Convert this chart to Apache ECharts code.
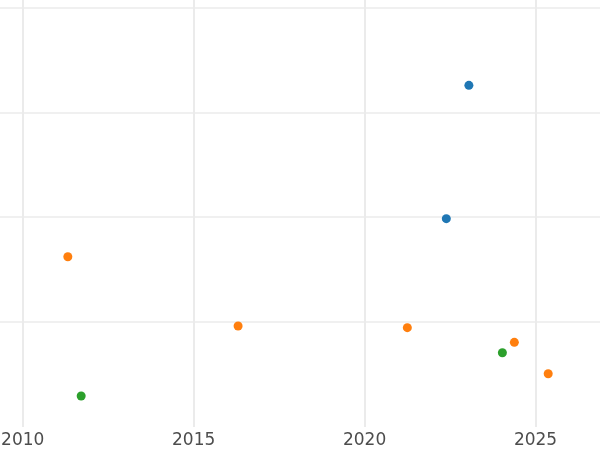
<!DOCTYPE html>
<html>
<head>
<meta charset="utf-8">
<script src="https://cdn.jsdelivr.net/npm/echarts@6/dist/echarts.min.js"></script>
<style>html,body{margin:0;padding:0;background:#fff}#c{width:600px;height:450px}</style>
</head>
<body>
<div id="c"></div>
<script>
// Data (x = year, y = value on the chart's unlabelled scale)
const blueX = [2023.05, 2022.39];
const blueY = [3.257, 1.986];
const orangeX = [2011.32, 2016.30, 2021.25, 2024.38, 2025.37];
const orangeY = [1.623, 0.963, 0.947, 0.807, 0.508];
const greenX = [2011.71, 2024.03];
const greenY = [0.296, 0.708];
const xTicks = [2010, 2015, 2020, 2025];

const pairs = (xs, ys) => xs.map((x, i) => [x, ys[i]]);
const chart = echarts.init(document.getElementById('c'), null, {renderer: 'canvas'});
const mk = (name, xs, ys, color) => ({
  name, type: 'scatter', data: pairs(xs, ys), symbolSize: 9,
  itemStyle: {color, opacity: 1}, emphasis: {disabled: true}
});
chart.setOption({
  animation: false,
  backgroundColor: '#ffffff',
  grid: {left: -148.25, right: -106.5, top: -97.5, bottom: 23, containLabel: false, outerBoundsMode: 'none'},
  xAxis: {
    type: 'value', min: 2005, max: 2030, interval: 5,
    axisLine: {show: false}, axisTick: {show: false},
    axisLabel: {color: '#4d4d4d', fontSize: 17, fontFamily: 'DejaVu Sans', margin: 5,
      formatter: v => xTicks.includes(v) ? String(v) : ''},
    splitLine: {show: true, lineStyle: {color: '#ebebeb', width: 2}}
  },
  yAxis: {
    type: 'value', min: 0, max: 5, interval: 1,
    axisLine: {show: false}, axisTick: {show: false}, axisLabel: {show: false},
    splitLine: {show: true, showMinLine: false, lineStyle: {color: '#ebebeb', width: 1.5}}
  },
  series: [
    mk('blue', blueX, blueY, '#1f77b4'),
    mk('orange', orangeX, orangeY, '#ff7f0e'),
    mk('green', greenX, greenY, '#2ca02c')
  ]
});
</script>
</body>
</html>
